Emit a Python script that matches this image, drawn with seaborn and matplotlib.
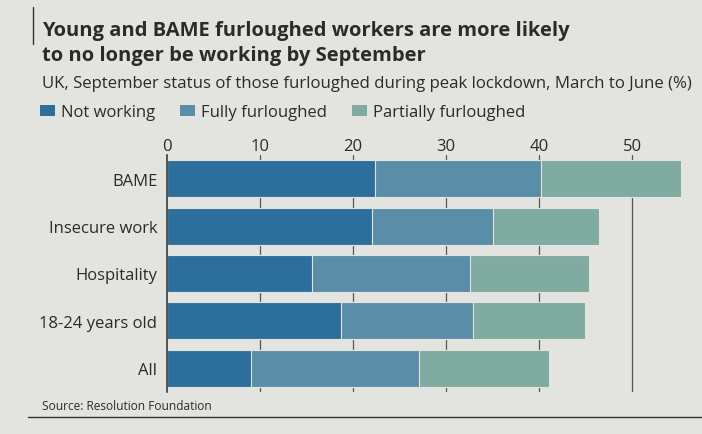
import matplotlib
matplotlib.use("Agg")
import matplotlib.pyplot as plt
from matplotlib.patches import Patch
from matplotlib.lines import Line2D
import seaborn as sns
import pandas as pd

# Data
groups = ["BAME", "Insecure work", "Hospitality", "18-24 years old", "All"]
not_working = [22.3, 22.0, 15.6, 18.7, 9.0]
fully_furloughed = [17.9, 13.0, 17.0, 14.2, 18.1]
partially_furloughed = [15.0, 11.4, 12.8, 12.0, 14.0]
series_names = ["Not working", "Fully furloughed", "Partially furloughed"]
x_ticks = [0, 10, 20, 30, 40, 50]

colors = ["#2d6f9c", "#5a8ea8", "#80aba0"]
paper = "#e3e3df"
ink = "#2b2b2b"

sns.set_theme(style="white")
plt.rcParams["font.family"] = ["Open Sans", "DejaVu Sans"]

df = pd.DataFrame({
    "group": groups,
    "nw": not_working,
    "ff": fully_furloughed,
    "pf": partially_furloughed,
})
df["c1"] = df["nw"]
df["c2"] = df["nw"] + df["ff"]
df["c3"] = df["nw"] + df["ff"] + df["pf"]

fig = plt.figure(figsize=(7.02, 4.35), dpi=100, facecolor=paper)
ax = fig.add_axes([167 / 702, 1 - 393 / 435, (690 - 167) / 702, (393 - 156) / 435])
ax.set_facecolor(paper)

# grid lines sit behind the bars
for t in x_ticks[1:]:
    ax.axvline(t, color="#555555", lw=0.9, zorder=0)

# stacked bars: draw cumulative totals from the outside in
for col, c in zip(["c3", "c2", "c1"], colors[::-1]):
    sns.barplot(data=df, x=col, y="group", order=groups, orient="h",
                color=c, saturation=1, width=0.78, ax=ax,
                edgecolor=paper, linewidth=0.8, zorder=2)

ax.set_xlim(0, 56.2)
ax.set_ylim(4.5, -0.5)
ax.set_xlabel("")
ax.set_ylabel("")
ax.xaxis.tick_top()
ax.set_xticks(x_ticks)
ax.set_xticklabels([str(t) for t in x_ticks], fontsize=12, color=ink)
ax.tick_params(axis="x", length=0, pad=1)
ax.tick_params(axis="y", length=0, pad=7, labelsize=12, labelcolor=ink)
for s in ["top", "right", "bottom"]:
    ax.spines[s].set_visible(False)
ax.spines["left"].set_color(ink)
ax.spines["left"].set_linewidth(1.1)
ax.spines["left"].set_zorder(3)

# titles
fig.text(42 / 702, 1 - 31 / 435, "Young and BAME furloughed workers are more likely",
         fontsize=14.5, fontweight="bold", color=ink, va="center", ha="left")
fig.text(42 / 702, 1 - 56 / 435, "to no longer be working by September",
         fontsize=14.5, fontweight="bold", color=ink, va="center", ha="left")
fig.text(42 / 702, 1 - 84 / 435,
         "UK, September status of those furloughed during peak lockdown, March to June (%)",
         fontsize=12.1, color=ink, va="center", ha="left")

# legend
handles = [Patch(facecolor=c, edgecolor="none") for c in colors]
leg = fig.legend(handles, series_names, loc="center left",
                 bbox_to_anchor=(40 / 702, 1 - 113 / 435), ncol=3, frameon=False,
                 fontsize=12, handlelength=0.9, handleheight=0.65,
                 handletextpad=0.35, columnspacing=1.5, borderaxespad=0,
                 borderpad=0)
for t in leg.get_texts():
    t.set_color(ink)

fig.text(42 / 702, 1 - 407 / 435, "Source: Resolution Foundation",
         fontsize=8.6, color=ink, va="center", ha="left")

# frame rules
fig.add_artist(Line2D([28 / 702, 1], [1 - 418 / 435, 1 - 418 / 435],
                      color="#333333", lw=1.0))
fig.add_artist(Line2D([33 / 702, 33 / 702], [1 - 8 / 435, 1 - 45 / 435],
                      color="#333333", lw=1.0))

fig.savefig("out.png", dpi=100, facecolor=paper)
